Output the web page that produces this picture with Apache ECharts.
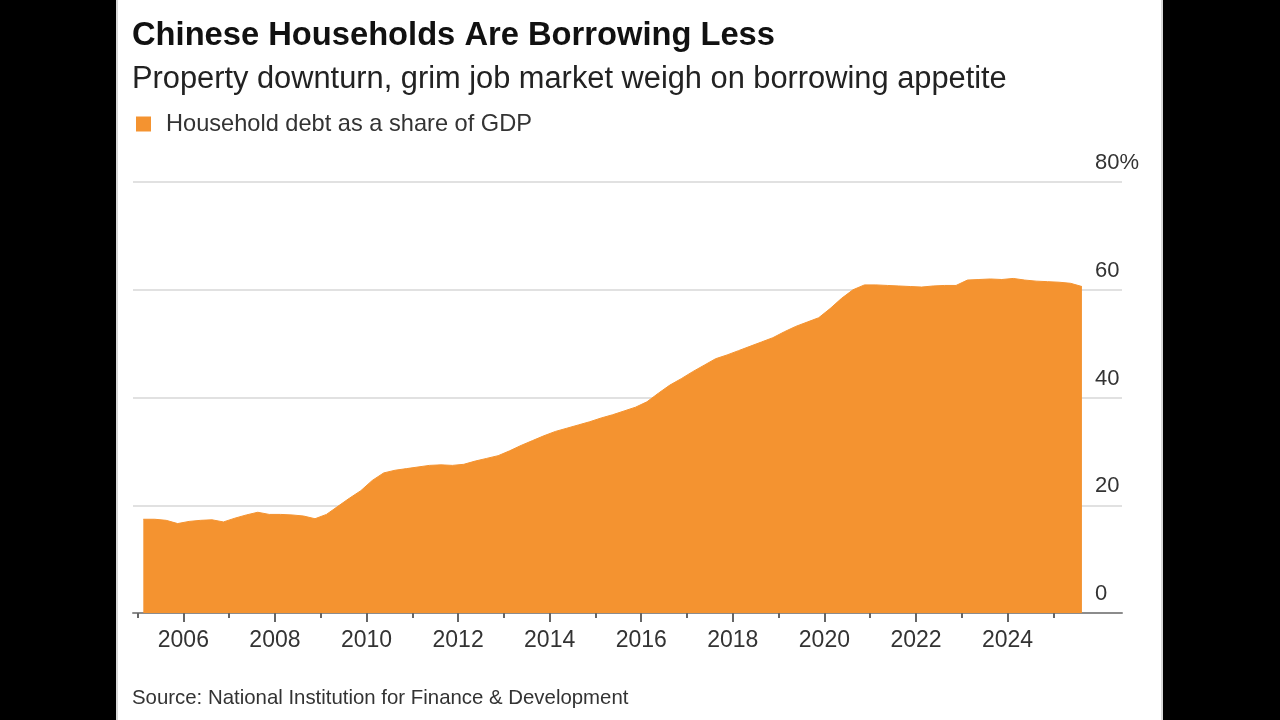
<!DOCTYPE html>
<html><head><meta charset="utf-8">
<script src="https://cdn.jsdelivr.net/npm/echarts@6/dist/echarts.min.js"></script>
<style>
html,body{margin:0;padding:0;background:#000;width:1280px;height:720px;overflow:hidden;}
#panel{position:absolute;left:116px;top:0;width:1047px;height:720px;background:#fff;box-sizing:border-box;border-left:2px solid #d8d8d8;border-right:2px solid #d8d8d8;}
#chart{position:absolute;left:0;top:0;width:1280px;height:720px;}
</style></head><body>
<div id="panel"></div><div id="chart"></div>
<script>
// Quarterly observations, 2005Q1 .. 2025Q3
const quarters = [
  '2005Q1','2005Q2','2005Q3','2005Q4','2006Q1','2006Q2','2006Q3','2006Q4',
  '2007Q1','2007Q2','2007Q3','2007Q4','2008Q1','2008Q2','2008Q3','2008Q4',
  '2009Q1','2009Q2','2009Q3','2009Q4','2010Q1','2010Q2','2010Q3','2010Q4',
  '2011Q1','2011Q2','2011Q3','2011Q4','2012Q1','2012Q2','2012Q3','2012Q4',
  '2013Q1','2013Q2','2013Q3','2013Q4','2014Q1','2014Q2','2014Q3','2014Q4',
  '2015Q1','2015Q2','2015Q3','2015Q4','2016Q1','2016Q2','2016Q3','2016Q4',
  '2017Q1','2017Q2','2017Q3','2017Q4','2018Q1','2018Q2','2018Q3','2018Q4',
  '2019Q1','2019Q2','2019Q3','2019Q4','2020Q1','2020Q2','2020Q3','2020Q4',
  '2021Q1','2021Q2','2021Q3','2021Q4','2022Q1','2022Q2','2022Q3','2022Q4',
  '2023Q1','2023Q2','2023Q3','2023Q4','2024Q1','2024Q2','2024Q3','2024Q4',
  '2025Q1','2025Q2','2025Q3'
];
// Household debt as a share of GDP (%)
const debtShare = [
  17.4, 17.4, 17.2, 16.6,  17.0, 17.2, 17.3, 16.9,
  17.6, 18.2, 18.7, 18.3,  18.3, 18.2, 18.0, 17.5,
  18.3, 19.8, 21.3, 22.7,  24.6, 26.0, 26.5, 26.8,
  27.1, 27.4, 27.5, 27.4,  27.6, 28.2, 28.7, 29.2,
  30.1, 31.1, 32.0, 32.9,  33.7, 34.3, 34.9, 35.5,
  36.2, 36.8, 37.5, 38.2,  39.2, 40.8, 42.3, 43.5,
  44.8, 46.0, 47.2, 47.9,  48.7, 49.5, 50.3, 51.1,
  52.2, 53.2, 54.0, 54.8,  56.5, 58.4, 60.0, 60.9,
  60.9, 60.8, 60.7, 60.6,  60.5, 60.7, 60.8, 60.8,
  61.8, 61.9, 62.0, 61.9,  62.1, 61.8, 61.6, 61.5,
  61.4, 61.2, 60.6
];
const labelYears = [2006, 2008, 2010, 2012, 2014, 2016, 2018, 2020, 2022, 2024];
const minorYears = [2005, 2007, 2009, 2011, 2013, 2015, 2017, 2019, 2021, 2023, 2025];
const yTicks = [0, 20, 40, 60, 80];

const seriesName = 'Household debt as a share of GDP';
const F = '"Liberation Sans", Arial, Helvetica, sans-serif';
const ORANGE = '#F49330';

// mid-quarter decimal year
function quarterToYear(q) {
  const y = parseInt(q.slice(0, 4), 10);
  const n = parseInt(q.slice(5), 10);
  return y + (n - 0.5) / 4;
}
const points = quarters.map((q, i) => [quarterToYear(q), debtShare[i]]);

const chart = echarts.init(document.getElementById('chart'), null, {renderer: 'canvas'});
chart.setOption({
  backgroundColor: 'transparent',
  animation: false,
  title: [
    {text: 'Chinese Households Are Borrowing Less', left: 132, top: 19, padding: 0,
     textStyle: {fontFamily: F, fontSize: 32.7, fontWeight: 'bold', color: '#111', lineHeight: 34}},
    {text: 'Property downturn, grim job market weigh on borrowing appetite', left: 132, top: 64, padding: 0,
     textStyle: {fontFamily: F, fontSize: 30.8, fontWeight: 'normal', color: '#222', lineHeight: 32}},
    {text: 'Source: National Institution for Finance & Development', left: 132, top: 687, padding: 0,
     textStyle: {fontFamily: F, fontSize: 20.4, fontWeight: 'normal', color: '#333', lineHeight: 22}}
  ],
  legend: {
    left: 136, top: 112, padding: 0, icon: 'rect', itemWidth: 15, itemHeight: 15,
    data: [seriesName],
    textStyle: {fontFamily: F, fontSize: 23.6, color: '#333', padding: [0, 0, 0, 10]}
  },
  grid: {left: 133, right: 158, top: 182, bottom: 107, containLabel: false, outerBoundsMode: 'none'},
  xAxis: [
    {type: 'value', min: 2004.9, max: 2026.5, position: 'bottom',
     axisLine: {show: true, onZero: true, lineStyle: {color: '#8c8c8c', width: 2}},
     splitLine: {show: false},
     axisTick: {show: true, customValues: labelYears, length: 9, lineStyle: {color: '#666', width: 2}},
     axisLabel: {show: true, customValues: labelYears, fontFamily: F, fontSize: 23, color: '#333', margin: 16,
                 formatter: v => String(Math.round(v))}},
    {type: 'value', min: 2004.9, max: 2026.5, position: 'bottom',
     axisLine: {show: false}, splitLine: {show: false},
     axisTick: {show: true, customValues: minorYears, length: 5, lineStyle: {color: '#666', width: 2}},
     axisLabel: {show: false}}
  ],
  yAxis: {
    type: 'value', position: 'right', min: 0, max: 80, interval: 20,
    axisLine: {show: false}, axisTick: {show: false},
    splitLine: {show: true, lineStyle: {color: '#e1e1e1', width: 2}},
    axisLabel: {fontFamily: F, fontSize: 22, color: '#333', margin: -27, align: 'left',
                verticalAlign: 'bottom', lineHeight: 38,
                formatter: v => (v === yTicks[yTicks.length - 1] ? v + '%' : String(v))}
  },
  series: [{
    name: seriesName, type: 'line', xAxisIndex: 0, data: points,
    showSymbol: false, symbol: 'none', smooth: false,
    itemStyle: {color: ORANGE},
    lineStyle: {color: ORANGE, width: 1},
    areaStyle: {color: ORANGE, opacity: 1},
    z: 1
  }]
});
</script>
</body></html>
